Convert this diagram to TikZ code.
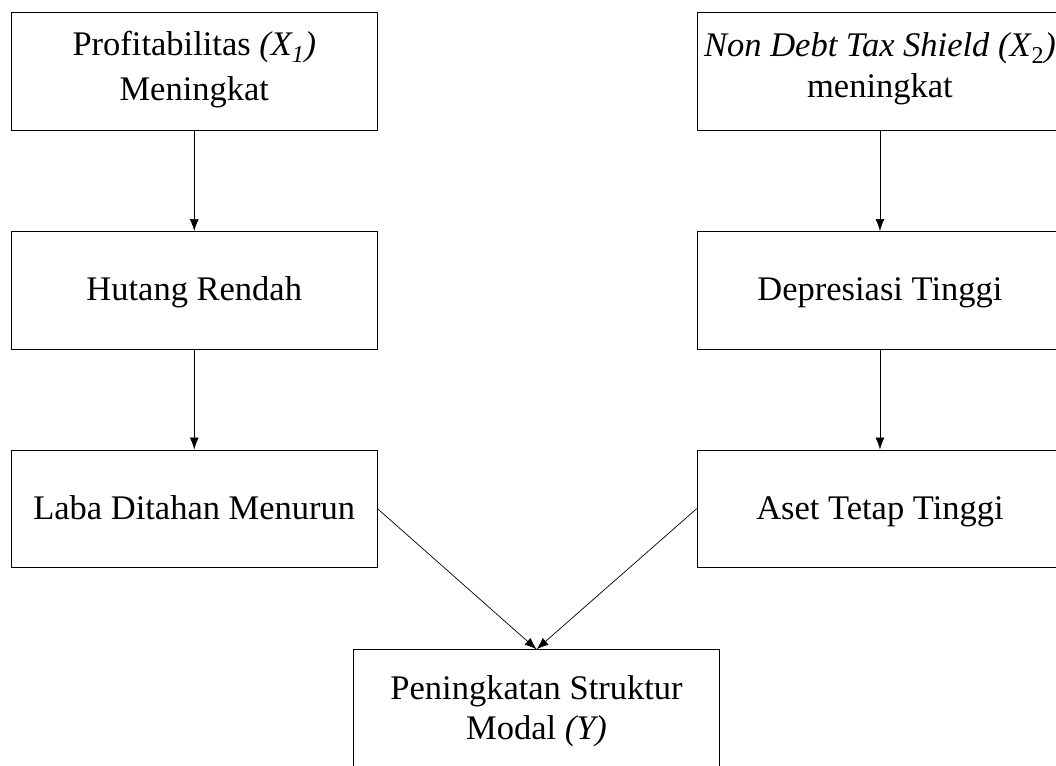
\documentclass[tikz,border=0pt]{standalone}
\usepackage{fontspec}
\setmainfont{Liberation Serif}
\usetikzlibrary{arrows.meta}
\begin{document}
\begin{tikzpicture}[x=1pt,y=-1pt,
  box/.style={draw, line width=0.8pt, minimum width=365.7pt, minimum height=117.5pt,
    anchor=north west, align=center, inner sep=0pt, font=\fontsize{34.5}{40.7}\selectfont},
  one/.style={text height=21.4pt, text depth=0pt},
  arr/.style={-{Latex[length=12pt,width=9pt]}, line width=0.7pt}]
\useasboundingbox (0,0) rectangle (1056,765);
\clip (0,0) rectangle (1056,765);
\node[box, text height=58.5pt, text depth=0pt] (p) at (11,12) {Profitabilitas \textit{(X\textsubscript{1})}\\[4.3pt] Meningkat};
\node[box, text height=51.9pt, text depth=0pt] (n) at (696.7,12) {\textit{Non Debt Tax Shield (X}\textsubscript{2}\textit{)}\\ meningkat};
\node[box, one] (h) at (11,231) {Hutang Rendah};
\node[box, one] (d) at (696.7,231) {Depresiasi Tinggi};
\node[box, one] (l) at (11,449.5) {Laba Ditahan Menurun};
\node[box, one] (a) at (696.7,449.5) {Aset Tetap Tinggi};
\node[box, text height=62.5pt, text depth=0pt] (y) at (353.3,649.3) {Peningkatan Struktur\\ Modal \textit{(Y)}};
\draw[arr] (p) -- (h);
\draw[arr] (h) -- (l);
\draw[arr] (n) -- (d);
\draw[arr] (d) -- (a);
\draw[arr] (l.east) -- (y.north);
\draw[arr] (a.west) -- (y.north);
\end{tikzpicture}
\end{document}
